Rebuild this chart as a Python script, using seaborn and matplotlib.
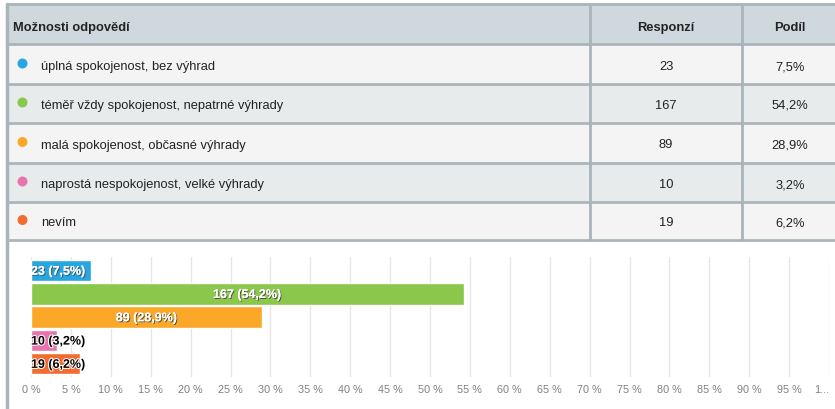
import pandas as pd
import matplotlib.pyplot as plt
import matplotlib.patheffects as pe
from matplotlib.patches import Rectangle, Circle
import seaborn as sns

# data
labels = ["úplná spokojenost, bez výhrad",
          "téměř vždy spokojenost, nepatrné výhrady",
          "malá spokojenost, občasné výhrady",
          "naprostá nespokojenost, velké výhrady",
          "nevím"]
counts = [23, 167, 89, 10, 19]
shares = [7.5, 54.2, 28.9, 3.2, 6.2]
colors = ["#27a7e1", "#8bc74a", "#fba828", "#e974ad", "#f26c2f"]
headers = ["Možnosti odpovědí", "Responzí", "Podíl"]
tick_vals = list(range(0, 101, 5))
tick_txt = [f"{v} %" for v in tick_vals[:-1]] + ["1..."]

sns.set_theme(style="white")
plt.rcParams['font.family'] = ['Liberation Sans', 'DejaVu Sans']

fig = plt.figure(figsize=(8.35, 4.09), dpi=100)

# table drawn in pixel coords
tab = fig.add_axes([0, 0, 1, 1], zorder=0)
tab.set_xlim(0, 835)
tab.set_ylim(409, 0)
tab.axis("off")

border = "#a9b5ba"
row_top = [45, 84, 123, 163, 202]
row_bot = [83, 122, 162, 201, 239]
tab.add_patch(Rectangle((7, 4), 830, 40, color="#cfd8dc", lw=0))
for i, (t, b) in enumerate(zip(row_top, row_bot)):
    bg = "#f4f4f4" if i % 2 == 0 else "#e8ebec"
    tab.add_patch(Rectangle((7, t), 830, b - t, color=bg, lw=0))
# grid lines of the table
for y in [4, 44] + [b + 0.5 for b in row_bot]:
    tab.plot([7, 835], [y, y], color=border, lw=2)
for x in [590, 742]:
    tab.plot([x, x], [4, 240], color=border, lw=2)
tab.plot([7, 7], [4, 409], color=border, lw=2.5)

fs = 9.3
dy = 3  # text sits a little below the row centre
tab.text(13, 25 + dy, headers[0], fontsize=fs, fontweight="bold", color="#222", va="center")
tab.text(666, 25 + dy, headers[1], fontsize=fs, fontweight="bold", color="#222", va="center", ha="center")
tab.text(790, 25 + dy, headers[2], fontsize=fs, fontweight="bold", color="#222", va="center", ha="center")
for i, (lab, c, s, col) in enumerate(zip(labels, counts, shares, colors)):
    yc = (row_top[i] + row_bot[i]) / 2
    tab.add_patch(Circle((22.5, yc - 0.5), 5, color=col, lw=0))
    tab.text(41, yc + dy, lab, fontsize=fs, color="#222", va="center")
    tab.text(666, yc + dy, str(c), fontsize=fs, color="#222", va="center", ha="center")
    tab.text(790, yc + dy, f"{s:.1f}%".replace(".", ","), fontsize=fs, color="#222",
             va="center", ha="center")

# bar chart
ax = fig.add_axes([31 / 835, 32 / 409, 798 / 835, 120 / 409], zorder=1)
ax.patch.set_alpha(0)
df = pd.DataFrame({"label": labels, "share": shares, "count": counts})
sns.barplot(data=df, x="share", y="label", hue="label", palette=colors,
            legend=False, width=0.92, saturation=1, ax=ax)
ax.set_xlim(0, 100)
ax.set_ylim(4.57, -0.58)
ax.set_xticks(tick_vals)
ax.set_xticklabels(tick_txt, fontsize=7.8, color="#808080")
ax.get_xticklabels()[-1].set_ha("right")
ax.tick_params(axis="x", length=0, pad=6)
ax.set_yticks([])
ax.set_xlabel("")
ax.set_ylabel("")
ax.grid(axis="x", color="#e6e6e6", lw=1)
ax.set_axisbelow(True)
for sp in ax.spines.values():
    sp.set_visible(False)

shadow = [pe.withSimplePatchShadow(offset=(0.7, -0.7), shadow_rgbFace="#444", alpha=0.9),
          pe.Normal()]
glow = [pe.withStroke(linewidth=1.5, foreground="white")]
for i, (c, s) in enumerate(zip(counts, shares)):
    txt = f"{c} ({s:.1f}%)".replace(".", ",")
    if s > 20:
        ax.text(s / 2, i + 0.05, txt, ha="center", va="center", fontsize=9,
                fontweight="bold", color="white", path_effects=shadow)
    elif i == 0:
        ax.text(0, i + 0.05, txt, ha="left", va="center", fontsize=9,
                fontweight="bold", color="white", path_effects=shadow)
    else:
        ax.text(0, i + 0.05, txt, ha="left", va="center", fontsize=9,
                fontweight="bold", color="black", path_effects=glow)

fig.savefig("out.png", dpi=100)
